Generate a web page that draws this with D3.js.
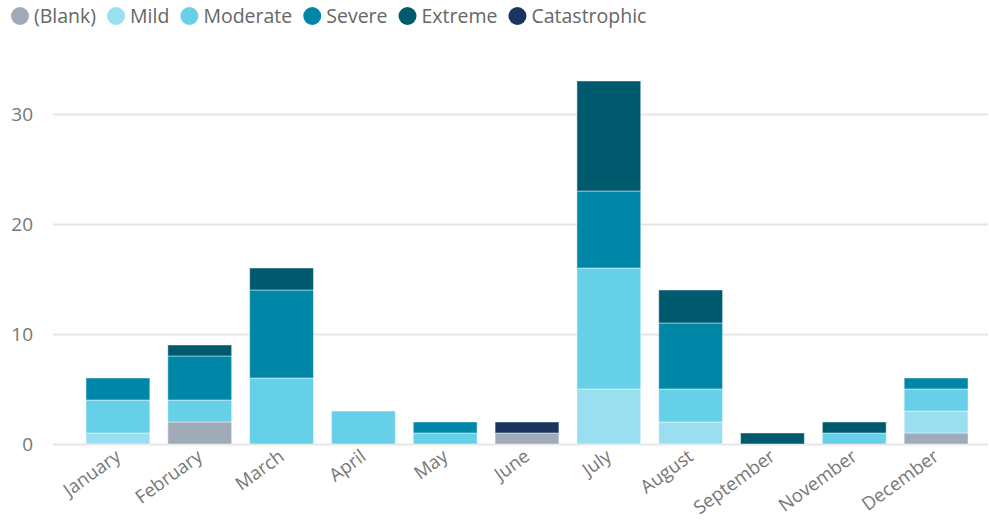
<html>
<head>
<meta charset="UTF-8">
<title>Severity by month</title>
<script src="https://d3js.org/d3.v7.min.js"></script>
<style>
    body { margin: 0; background: #fff; font-family: 'Open Sans', sans-serif; }
    .tick text { fill: #777; }
</style>
</head>
<body>
<div id="chart"></div>
<script>
    // months shown on the axis
    var months = ["January", "February", "March", "April", "May", "June", "July", "August", "September", "November", "December"];
    var severities = ["(Blank)", "Mild", "Moderate", "Severe", "Extreme", "Catastrophic"];
    var colors = ["#a0abb9", "#9adff0", "#66d0e8", "#0086a6", "#005a6e", "#1b3560"];

    // counts per severity, one value per month
    var blank        = [0, 2, 0, 0, 0, 1, 0, 0, 0, 0, 1];
    var mild         = [1, 0, 0, 0, 0, 0, 5, 2, 0, 0, 2];
    var moderate     = [3, 2, 6, 3, 1, 0, 11, 3, 0, 1, 2];
    var severe       = [2, 4, 8, 0, 1, 0, 7, 6, 0, 0, 1];
    var extreme      = [0, 1, 2, 0, 0, 0, 10, 3, 1, 1, 0];
    var catastrophic = [0, 0, 0, 0, 0, 1, 0, 0, 0, 0, 0];
    var yTicks = [0, 10, 20, 30];

    var series = [blank, mild, moderate, severe, extreme, catastrophic];
    var rows = months.map(function(m, i) {
        var r = { month: m };
        severities.forEach(function(s, j) { r[s] = series[j][i]; });
        return r;
    });

    var width = 989, height = 520;
    var svg = d3.select("#chart").append("svg")
        .attr("width", width).attr("height", height);

    var x = d3.scaleBand().domain(months).range([77, 977]).paddingInner(0.22).paddingOuter(0.11);
    var y = d3.scaleLinear().domain([0, 30]).range([444, 114]);

    // gridlines + y labels
    var yAxis = svg.append("g")
        .attr("transform", "translate(53,0)")
        .call(d3.axisLeft(y).tickValues(yTicks).tickSize(-935).tickPadding(20));
    yAxis.select(".domain").remove();
    yAxis.selectAll(".tick line").attr("stroke", "#e6e6e6").attr("stroke-width", 2);
    yAxis.selectAll(".tick text").attr("font-size", 19).attr("font-family", "'Open Sans', sans-serif");

    var stack = d3.stack().keys(severities)(rows);

    svg.append("g").selectAll("g")
        .data(stack)
        .join("g")
        .attr("fill", function(d, i) { return colors[i]; })
        .selectAll("rect")
        .data(function(d) { return d.filter(function(p) { return p[1] > p[0]; }); })
        .join("rect")
        .attr("x", function(d) { return x(d.data.month); })
        .attr("y", function(d) { return y(d[1]); })
        .attr("width", x.bandwidth())
        .attr("height", function(d) { return y(d[0]) - y(d[1]); })
        .attr("stroke", "rgba(255,255,255,0.45)")
        .attr("stroke-width", 1);

    // x labels
    var xAxis = svg.append("g")
        .attr("transform", "translate(0,444)")
        .call(d3.axisBottom(x).tickSize(0).tickPadding(0));
    xAxis.select(".domain").remove();
    xAxis.selectAll(".tick text")
        .attr("font-size", 18.5)
        .attr("font-family", "'Open Sans', sans-serif")
        .attr("text-anchor", "end")
        .attr("dy", 0)
        .attr("transform", "translate(4,15) rotate(-36)");

    // legend
    var legend = svg.append("g").attr("transform", "translate(0,16)");
    var lx = 20;
    severities.forEach(function(s, i) {
        legend.append("circle").attr("cx", lx).attr("cy", 0).attr("r", 9).attr("fill", colors[i]);
        var t = legend.append("text")
            .attr("x", lx + 14).attr("y", 6.5)
            .attr("font-size", 19.5)
            .attr("fill", "#666")
            .text(s);
        lx += 14 + t.node().getComputedTextLength() + 20;
    });
</script>
</body>
</html>
